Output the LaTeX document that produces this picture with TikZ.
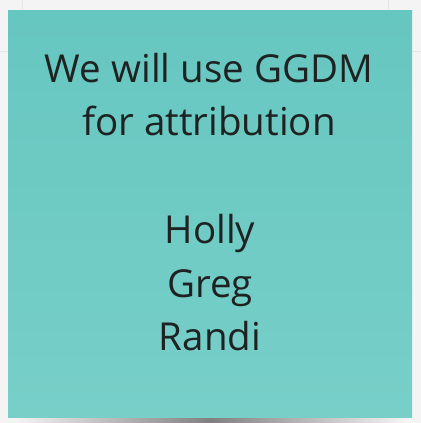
\documentclass[tikz,border=0pt]{standalone}
\usepackage{fontspec}
\setmainfont{Open Sans}
\definecolor{bgc}{HTML}{F4F4F4}
\definecolor{gridc}{HTML}{E6E6E6}
\definecolor{notetop}{HTML}{66C7C0}
\definecolor{notebot}{HTML}{77CFC8}
\definecolor{txt}{HTML}{1F2222}
\definecolor{shad}{HTML}{808080}
\tikzset{
  notetext/.style={font=\fontsize{38.5bp}{53bp}\selectfont, text=txt, align=center, inner sep=0pt},
}
\begin{document}
\begin{tikzpicture}[x=1bp,y=-1bp]
\useasboundingbox (0,0) rectangle (421,423);
\fill[bgc] (0,0) rectangle (421,423);
\draw[gridc, line width=1bp] (22,0) -- (22,423) (388,0) -- (388,423) (0,51) -- (421,51);
% shadow
\shade[left color=bgc, right color=bgc, middle color=shad] (15,416) rectangle (405,423);
% note
\shade[top color=notetop, bottom color=notebot] (8,10) rectangle (412,417);
\node[notetext, anchor=base] (l1) at (209,82) {We will use GGDM};
\node[notetext, anchor=base] (l2) at (209,135) {for attribution};
\node[notetext, anchor=base] (n1) at (210,243) {Holly};
\node[notetext, anchor=base] (n2) at (210,297) {Greg};
\node[notetext, anchor=base] (n3) at (210,350) {Randi};
\end{tikzpicture}
\end{document}
